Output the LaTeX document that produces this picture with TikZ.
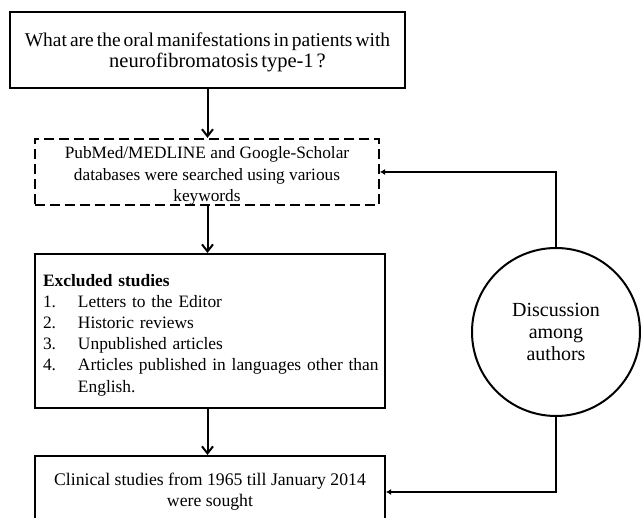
\documentclass[tikz,border=0pt]{standalone}
\usepackage{fontspec}
\setmainfont{Liberation Serif}
\usetikzlibrary{arrows.meta}
\newcommand{\tightspace}{\spaceskip=3pt plus 1pt\relax}
\begin{document}
\begin{tikzpicture}[x=1pt,y=-1pt,
  font=\fontsize{17.7}{21.2}\selectfont,
  box/.style={draw, line width=2pt, inner sep=0pt, align=center},
  dbox/.style={box, dash pattern=on 10pt off 5pt},
  arr/.style={line width=2pt, -{Straight Barb[length=7pt,width=11pt]}},
  sidearr/.style={line width=1.6pt, -{Latex[length=5pt,width=6pt]}}]
\useasboundingbox (0,0) rectangle (641,518);
\node[box, minimum width=395pt, minimum height=76pt,
  font=\fontsize{19.5}{21}\selectfont\tightspace] (q) at (207.5,50.5)
  {\rule{0pt}{18pt}What are the oral manifestations in patients with\\ \hspace*{20pt}\fontsize{20.5}{21}\selectfont neurofibromatosis type-1 ?};
\node[dbox, minimum width=344pt, minimum height=64pt, font=\fontsize{17.3}{21.3}\selectfont] (s) at (207,172)
  {\rule{0pt}{20pt}PubMed/MEDLINE and Google-Scholar\\ databases were searched using various\\ keywords};
\node[box, align=left, text width=334pt, inner xsep=8pt, minimum height=154pt,
  font=\fontsize{17.4}{21.2}\selectfont] (e) at (210,331)
  {\rule{0pt}{20pt}\textbf{Excluded studies}\\
   \mbox{\makebox[35pt][l]{1.}Letters to the Editor}\\
   \mbox{\makebox[35pt][l]{2.}Historic reviews}\\
   \mbox{\makebox[35pt][l]{3.}Unpublished articles}\\
   \mbox{\makebox[35pt][l]{4.}Articles published in languages other than}\\
   \mbox{\hspace*{35pt}English.}};
\node[box, minimum width=350pt, minimum height=72pt] (c) at (210,492)
  {Clinical studies from 1965 till January 2014\\ were sought};
\node[draw, circle, line width=2pt, minimum size=168pt, inner sep=0pt, align=center,
  font=\fontsize{20}{22}\selectfont] (d) at (556,332)
  {Discussion\\ among\\ authors};
\draw[arr] (q.south) -- (q.south |- s.north);
\draw[arr] (s.south -| q.south) -- (q.south |- e.north);
\draw[arr] (e.south -| q.south) -- (q.south |- c.north);
\draw[sidearr] (d.north) |- (s.east);
\draw[sidearr] (d.south) |- (c.east);
\end{tikzpicture}
\end{document}
